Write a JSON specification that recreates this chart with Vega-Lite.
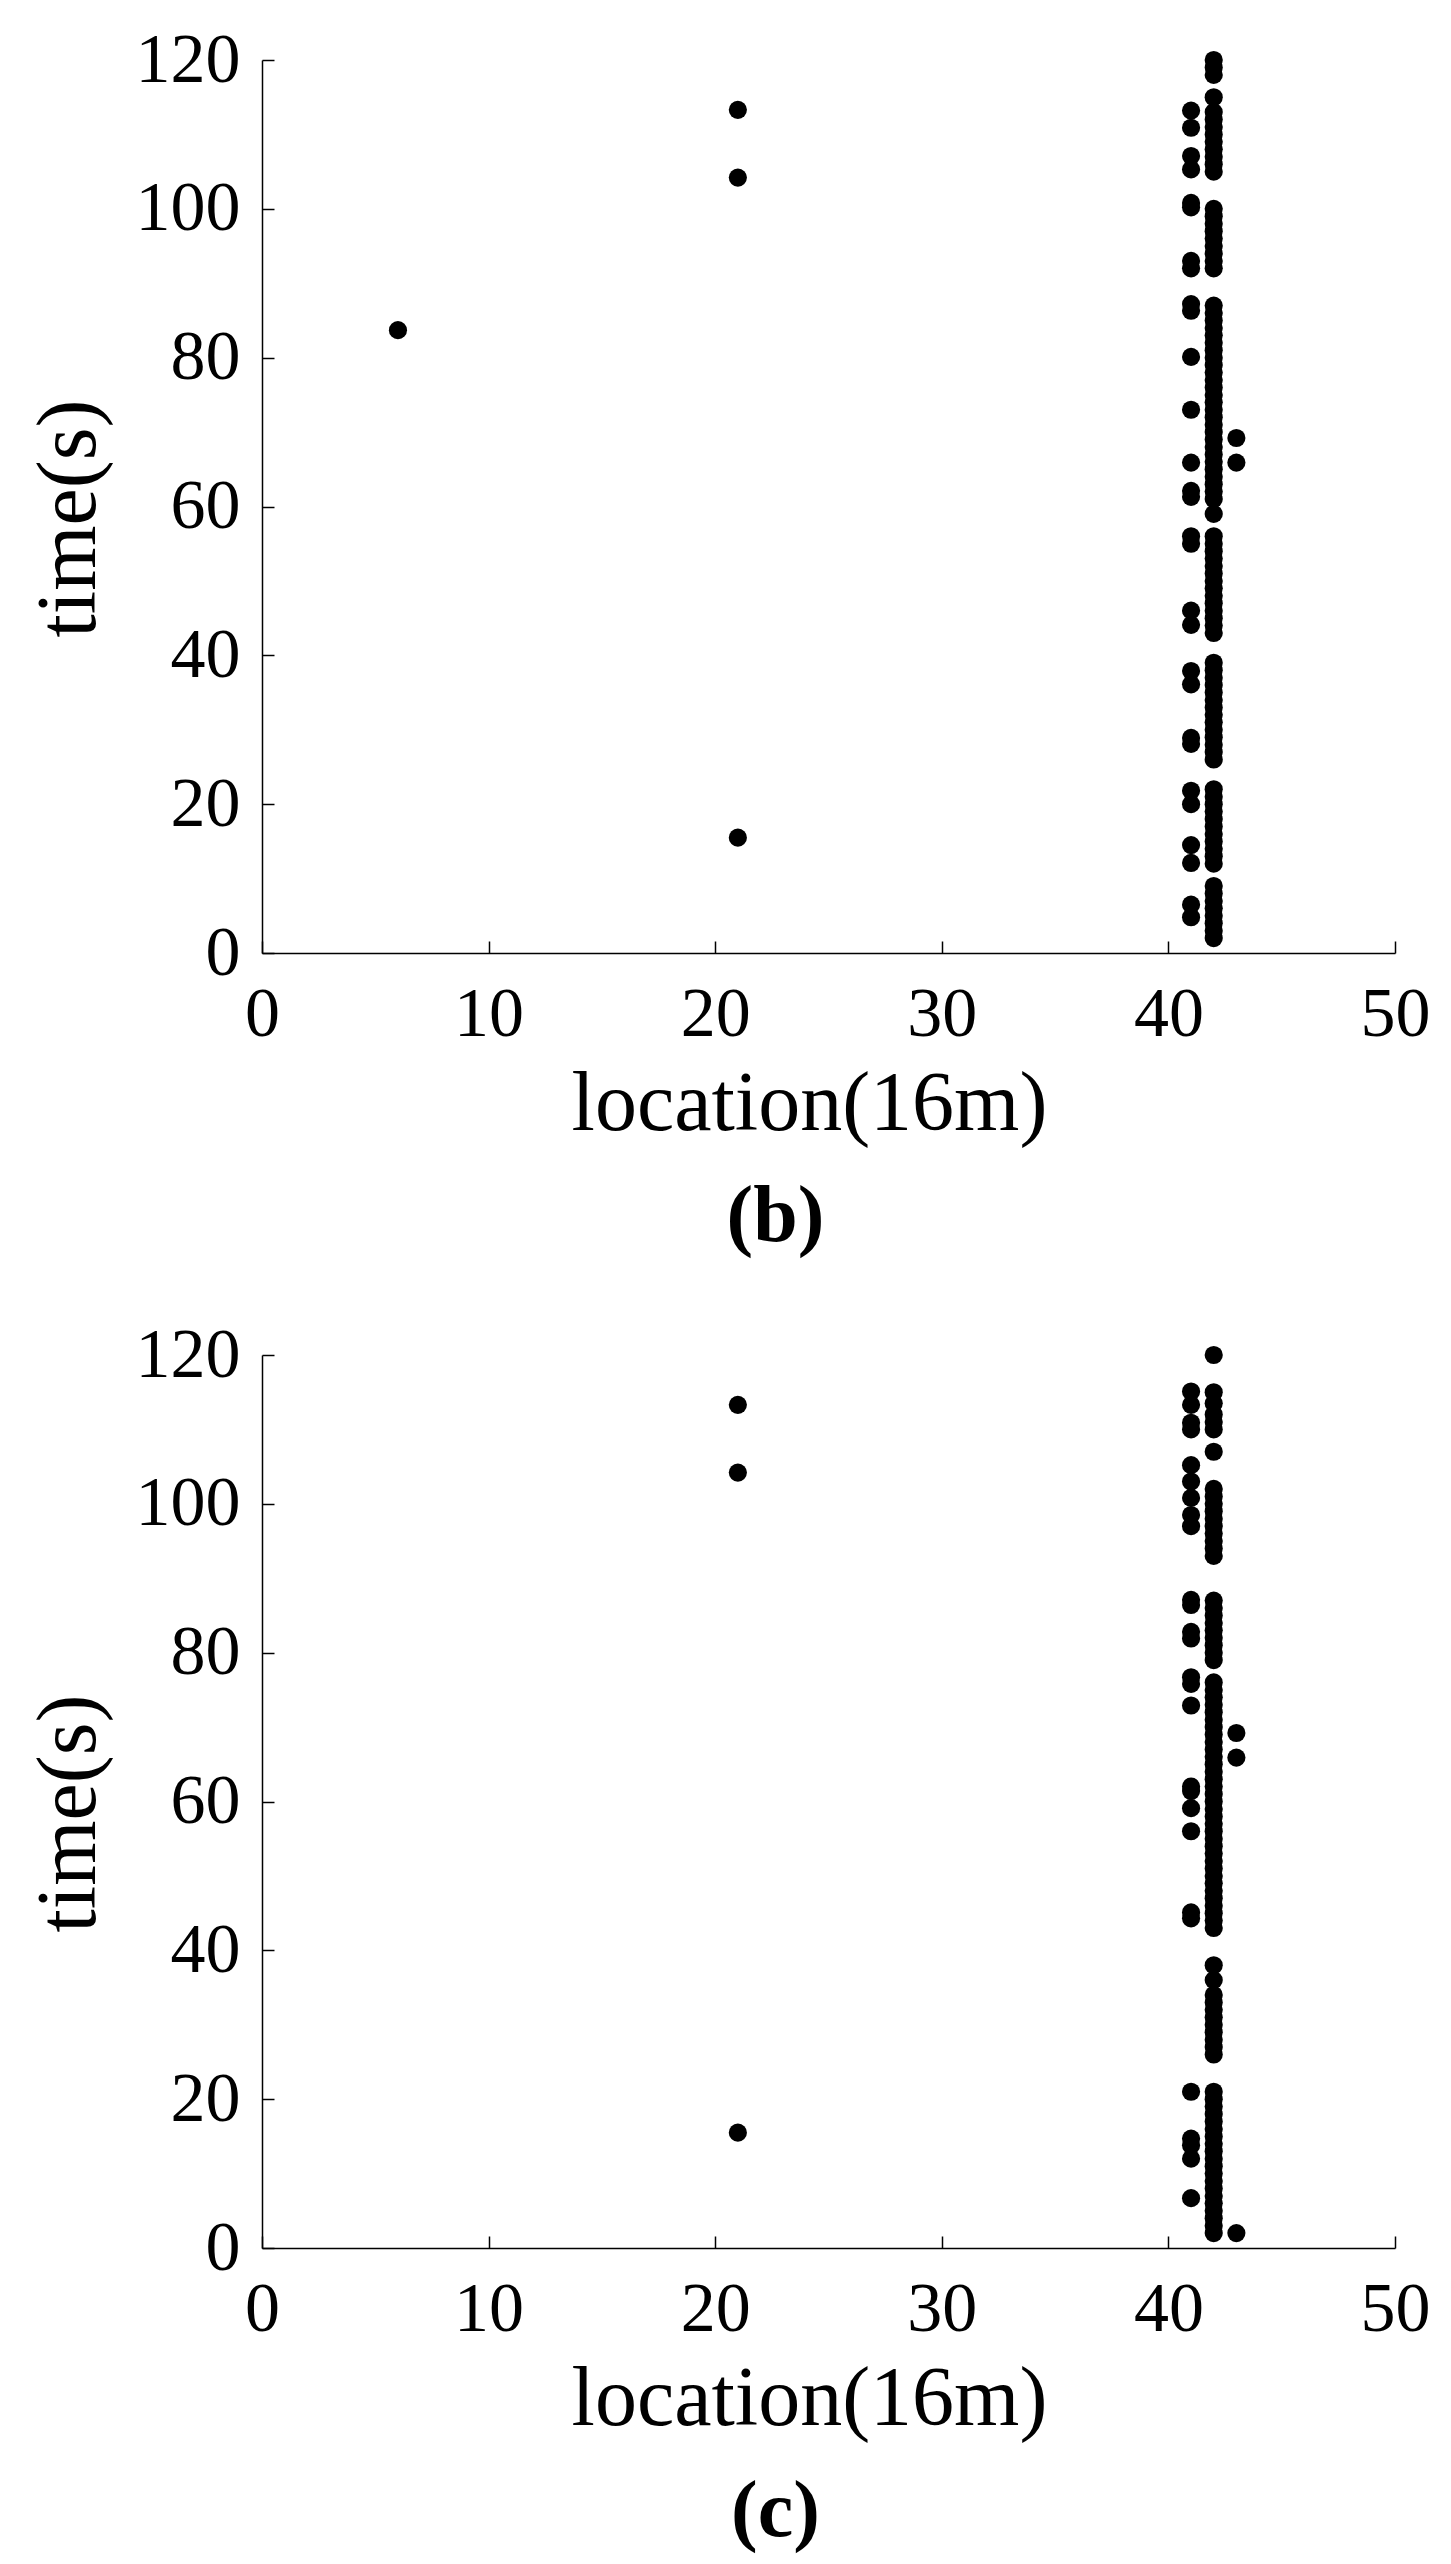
{
  "$schema": "https://vega.github.io/schema/vega-lite/v6.json",
  "background": "white",
  "padding": {"left": 27, "top": 25, "right": 10, "bottom": 10},
  "spacing": 63,
  "config": {
    "view": {"stroke": null},
    "axis": {
      "domainColor": "black", "domainWidth": 1.5,
      "tickColor": "black", "tickWidth": 1.5, "tickSize": -12,
      "labelFont": "Liberation Serif", "labelFontSize": 70, "labelColor": "black",
      "titleFont": "Liberation Serif", "titleFontSize": 84, "titleFontWeight": "normal", "titleColor": "black",
      "grid": false, "labelFlush": false, "labelOverlap": false
    },
    "axisX": {"labelPadding": 39, "titleX": 547, "titleY": 110.6, "titleBaseline": "top", "titleAlign": "center"},
    "axisY": {"labelPadding": 34, "titleX": -149.4, "titleY": 458, "titleAngle": -90, "titleBaseline": "bottom", "titleAlign": "center"},
    "title": {"orient": "bottom", "font": "Liberation Serif", "fontWeight": "bold", "fontSize": 80, "color": "black", "offset": 31, "dx": -53, "anchor": "middle"}
  },
  "datasets": {
    "b": [
      {"location": 6, "time": 83.7}, {"location": 21, "time": 113.3}, {"location": 21, "time": 104.2}, {"location": 21, "time": 15.5},
      {"location": 43, "time": 69.2}, {"location": 43, "time": 65.9},
      {"location": 41, "time": 113.2}, {"location": 41, "time": 110.9}, {"location": 41, "time": 107.1}, {"location": 41, "time": 105.3},
      {"location": 41, "time": 100.8}, {"location": 41, "time": 100.2}, {"location": 41, "time": 93}, {"location": 41, "time": 92},
      {"location": 41, "time": 87.2}, {"location": 41, "time": 86.3}, {"location": 41, "time": 80.1}, {"location": 41, "time": 73},
      {"location": 41, "time": 65.9}, {"location": 41, "time": 62.1}, {"location": 41, "time": 61.3}, {"location": 41, "time": 56},
      {"location": 41, "time": 55}, {"location": 41, "time": 46}, {"location": 41, "time": 44.1}, {"location": 41, "time": 37.9},
      {"location": 41, "time": 36.1}, {"location": 41, "time": 28.9}, {"location": 41, "time": 28.1}, {"location": 41, "time": 21.8},
      {"location": 41, "time": 20}, {"location": 41, "time": 14.5}, {"location": 41, "time": 12.1}, {"location": 41, "time": 6.5},
      {"location": 41, "time": 4.8},
      {"location": 42, "time": 120}, {"location": 42, "time": 119}, {"location": 42, "time": 118},
      {"location": 42, "time": 115}, {"location": 42, "time": 113}, {"location": 42, "time": 112}, {"location": 42, "time": 111},
      {"location": 42, "time": 110}, {"location": 42, "time": 109}, {"location": 42, "time": 108}, {"location": 42, "time": 107},
      {"location": 42, "time": 106}, {"location": 42, "time": 105},
      {"location": 42, "time": 100}, {"location": 42, "time": 99}, {"location": 42, "time": 98}, {"location": 42, "time": 97},
      {"location": 42, "time": 96}, {"location": 42, "time": 95}, {"location": 42, "time": 94}, {"location": 42, "time": 93},
      {"location": 42, "time": 92},
      {"location": 42, "time": 87}, {"location": 42, "time": 86}, {"location": 42, "time": 85}, {"location": 42, "time": 84},
      {"location": 42, "time": 83}, {"location": 42, "time": 82}, {"location": 42, "time": 81}, {"location": 42, "time": 80},
      {"location": 42, "time": 79}, {"location": 42, "time": 78}, {"location": 42, "time": 77}, {"location": 42, "time": 76},
      {"location": 42, "time": 75}, {"location": 42, "time": 74}, {"location": 42, "time": 73}, {"location": 42, "time": 72},
      {"location": 42, "time": 71}, {"location": 42, "time": 70}, {"location": 42, "time": 69}, {"location": 42, "time": 68},
      {"location": 42, "time": 67}, {"location": 42, "time": 66}, {"location": 42, "time": 65}, {"location": 42, "time": 64},
      {"location": 42, "time": 63}, {"location": 42, "time": 62}, {"location": 42, "time": 61}, {"location": 42, "time": 59},
      {"location": 42, "time": 56}, {"location": 42, "time": 55}, {"location": 42, "time": 54}, {"location": 42, "time": 53},
      {"location": 42, "time": 52}, {"location": 42, "time": 51}, {"location": 42, "time": 50}, {"location": 42, "time": 49},
      {"location": 42, "time": 48}, {"location": 42, "time": 47}, {"location": 42, "time": 46}, {"location": 42, "time": 45},
      {"location": 42, "time": 44}, {"location": 42, "time": 43},
      {"location": 42, "time": 39}, {"location": 42, "time": 38}, {"location": 42, "time": 37}, {"location": 42, "time": 36},
      {"location": 42, "time": 35}, {"location": 42, "time": 34}, {"location": 42, "time": 33}, {"location": 42, "time": 32},
      {"location": 42, "time": 31}, {"location": 42, "time": 30}, {"location": 42, "time": 29}, {"location": 42, "time": 28},
      {"location": 42, "time": 27}, {"location": 42, "time": 26},
      {"location": 42, "time": 22}, {"location": 42, "time": 21}, {"location": 42, "time": 20}, {"location": 42, "time": 19},
      {"location": 42, "time": 18}, {"location": 42, "time": 17}, {"location": 42, "time": 16}, {"location": 42, "time": 15},
      {"location": 42, "time": 14}, {"location": 42, "time": 13}, {"location": 42, "time": 12},
      {"location": 42, "time": 9}, {"location": 42, "time": 8}, {"location": 42, "time": 7}, {"location": 42, "time": 6},
      {"location": 42, "time": 5}, {"location": 42, "time": 4}, {"location": 42, "time": 3}, {"location": 42, "time": 2}
    ],
    "c": [
      {"location": 21, "time": 113.3}, {"location": 21, "time": 104.2}, {"location": 21, "time": 15.5},
      {"location": 43, "time": 69.2}, {"location": 43, "time": 65.9}, {"location": 43, "time": 2},
      {"location": 41, "time": 115.1}, {"location": 41, "time": 113.3}, {"location": 41, "time": 110.9}, {"location": 41, "time": 110},
      {"location": 41, "time": 105.2}, {"location": 41, "time": 103}, {"location": 41, "time": 100.8}, {"location": 41, "time": 98.5},
      {"location": 41, "time": 97}, {"location": 41, "time": 87.1}, {"location": 41, "time": 86.4}, {"location": 41, "time": 82.8},
      {"location": 41, "time": 81.9}, {"location": 41, "time": 76.7}, {"location": 41, "time": 75.8}, {"location": 41, "time": 72.9},
      {"location": 41, "time": 62}, {"location": 41, "time": 61.4}, {"location": 41, "time": 59.1}, {"location": 41, "time": 56},
      {"location": 41, "time": 45.1}, {"location": 41, "time": 44.3}, {"location": 41, "time": 21}, {"location": 41, "time": 14.7},
      {"location": 41, "time": 13.8}, {"location": 41, "time": 12}, {"location": 41, "time": 6.7},
      {"location": 42, "time": 120},
      {"location": 42, "time": 115}, {"location": 42, "time": 113.5}, {"location": 42, "time": 112}, {"location": 42, "time": 111},
      {"location": 42, "time": 110}, {"location": 42, "time": 107},
      {"location": 42, "time": 102}, {"location": 42, "time": 101}, {"location": 42, "time": 100}, {"location": 42, "time": 99},
      {"location": 42, "time": 98}, {"location": 42, "time": 97}, {"location": 42, "time": 96}, {"location": 42, "time": 95},
      {"location": 42, "time": 94}, {"location": 42, "time": 93},
      {"location": 42, "time": 87}, {"location": 42, "time": 86}, {"location": 42, "time": 85}, {"location": 42, "time": 84},
      {"location": 42, "time": 83}, {"location": 42, "time": 82}, {"location": 42, "time": 81}, {"location": 42, "time": 80},
      {"location": 42, "time": 79},
      {"location": 42, "time": 76}, {"location": 42, "time": 75}, {"location": 42, "time": 74}, {"location": 42, "time": 73},
      {"location": 42, "time": 72}, {"location": 42, "time": 71}, {"location": 42, "time": 70}, {"location": 42, "time": 69},
      {"location": 42, "time": 68}, {"location": 42, "time": 67}, {"location": 42, "time": 66}, {"location": 42, "time": 65},
      {"location": 42, "time": 64}, {"location": 42, "time": 63}, {"location": 42, "time": 62}, {"location": 42, "time": 61},
      {"location": 42, "time": 60}, {"location": 42, "time": 59}, {"location": 42, "time": 58}, {"location": 42, "time": 57},
      {"location": 42, "time": 56}, {"location": 42, "time": 55}, {"location": 42, "time": 54}, {"location": 42, "time": 53},
      {"location": 42, "time": 52}, {"location": 42, "time": 51}, {"location": 42, "time": 50}, {"location": 42, "time": 49},
      {"location": 42, "time": 48}, {"location": 42, "time": 47}, {"location": 42, "time": 46}, {"location": 42, "time": 45},
      {"location": 42, "time": 44}, {"location": 42, "time": 43},
      {"location": 42, "time": 38}, {"location": 42, "time": 36}, {"location": 42, "time": 34}, {"location": 42, "time": 33},
      {"location": 42, "time": 32}, {"location": 42, "time": 31}, {"location": 42, "time": 30}, {"location": 42, "time": 29},
      {"location": 42, "time": 28}, {"location": 42, "time": 27}, {"location": 42, "time": 26},
      {"location": 42, "time": 21}, {"location": 42, "time": 20}, {"location": 42, "time": 19}, {"location": 42, "time": 18},
      {"location": 42, "time": 17}, {"location": 42, "time": 16}, {"location": 42, "time": 15}, {"location": 42, "time": 14},
      {"location": 42, "time": 13}, {"location": 42, "time": 12}, {"location": 42, "time": 11}, {"location": 42, "time": 10},
      {"location": 42, "time": 9}, {"location": 42, "time": 8}, {"location": 42, "time": 7}, {"location": 42, "time": 6},
      {"location": 42, "time": 5}, {"location": 42, "time": 4}, {"location": 42, "time": 3}, {"location": 42, "time": 2}
    ]
  },
  "vconcat": [
    {
      "data": {"name": "b"},
      "width": 1133, "height": 893,
      "title": {"text": "(b)"},
      "mark": {"type": "circle", "size": 330, "color": "black", "opacity": 1},
      "encoding": {
        "x": {"field": "location", "type": "quantitative", "title": "location(16m)",
              "scale": {"domain": [0, 50], "nice": false, "zero": false},
              "axis": {"values": [0, 10, 20, 30, 40, 50]}},
        "y": {"field": "time", "type": "quantitative", "title": "time(s)",
              "scale": {"domain": [0, 120], "nice": false, "zero": false},
              "axis": {"values": [0, 20, 40, 60, 80, 100, 120]}}
      }
    },
    {
      "data": {"name": "c"},
      "width": 1133, "height": 893,
      "title": {"text": "(c)"},
      "mark": {"type": "circle", "size": 330, "color": "black", "opacity": 1},
      "encoding": {
        "x": {"field": "location", "type": "quantitative", "title": "location(16m)",
              "scale": {"domain": [0, 50], "nice": false, "zero": false},
              "axis": {"values": [0, 10, 20, 30, 40, 50]}},
        "y": {"field": "time", "type": "quantitative", "title": "time(s)",
              "scale": {"domain": [0, 120], "nice": false, "zero": false},
              "axis": {"values": [0, 20, 40, 60, 80, 100, 120]}}
      }
    }
  ]
}
